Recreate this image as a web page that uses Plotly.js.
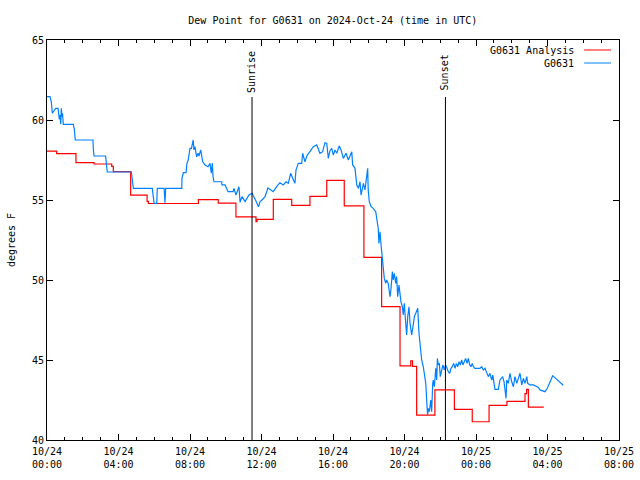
<!DOCTYPE html>
<html>
<head>
<meta charset="utf-8">
<script src="https://cdn.plot.ly/plotly-3.0.1.min.js"></script>
<style>html,body{margin:0;padding:0;background:#fff;}#chart{width:640px;height:480px;}</style>
</head>
<body>
<div id="chart"></div>
<script>
// ---- data (hours after 2024-10-24 00:00 UTC) ----
const baseDay = '2024-10-24';
const analysisHours = [0, 0.54, 1.62, 2.63, 3.62, 3.71, 4.68, 5.6, 5.67, 8.47, 9.58, 10.57, 11.69, 11.75, 12.66, 13.69, 14.71, 15.65, 16.63, 17.73, 18.72, 19.75, 20.35, 20.45, 20.68, 21.7, 22.79, 23.79, 24.73, 25.73, 26.74, 26.83, 26.93, 27.79];
const analysisValues = [58.05, 57.9, 57.33, 57.25, 57.1, 56.77, 55.3, 54.92, 54.78, 55.02, 54.81, 53.95, 53.64, 53.79, 55.04, 54.67, 55.23, 56.23, 54.63, 51.42, 48.33, 44.63, 44.94, 44.6, 41.56, 43.13, 41.92, 41.14, 42.17, 42.42, 42.9, 43.17, 42.06, 42.06];

const obsHours = [0, 0.17, 0.24, 0.30, 0.39, 0.49, 0.62, 0.69, 0.73, 0.77, 0.80, 0.84, 0.87, 0.91, 1.47, 1.53, 1.58, 2.57, 2.59, 2.63, 3.28, 3.34, 3.37, 4.72, 4.76, 4.83, 5.89, 5.99, 6.14, 6.17, 6.55, 6.60, 6.64, 7.54, 7.55, 7.63, 7.78, 7.83, 7.90, 7.96, 8.0, 8.08, 8.18, 8.22, 8.28, 8.37, 8.45, 8.50, 8.60, 8.71, 8.84, 9.01, 9.12, 9.19, 9.25, 9.29, 9.34, 9.77, 9.79, 9.96, 10.01, 10.13, 10.41, 10.46, 10.57, 10.74, 10.80, 10.91, 11.08, 11.19, 11.30, 11.47, 11.58, 11.69, 11.83, 11.92, 12.03, 12.20, 12.36, 12.51, 12.66, 12.85, 13.03, 13.22, 13.37, 13.50, 13.63, 13.75, 13.87, 13.93, 14.06, 14.25, 14.30, 14.43, 14.56, 14.71, 14.90, 15.09, 15.18, 15.27, 15.42, 15.55, 15.65, 15.74, 15.83, 15.93, 16.02, 16.11, 16.21, 16.35, 16.45, 16.58, 16.73, 16.86, 17.05, 17.10, 17.23, 17.33, 17.42, 17.51, 17.57, 17.70, 17.79, 17.89, 17.94, 17.97, 18.03, 18.13, 18.25, 18.39, 18.44, 18.53, 18.57, 18.63, 18.69, 18.72, 18.78, 18.81, 18.87, 18.95, 19.00, 19.09, 19.19, 19.24, 19.32, 19.37, 19.43, 19.51, 19.56, 19.62, 19.69, 19.80, 19.88, 19.93, 19.99, 20.07, 20.12, 20.18, 20.25, 20.31, 20.40, 20.49, 20.55, 20.63, 20.68, 20.74, 20.81, 20.87, 20.96, 21.05, 21.11, 21.19, 21.24, 21.29, 21.33, 21.39, 21.47, 21.52, 21.58, 21.61, 21.67, 21.75, 21.80, 21.84, 21.89, 21.95, 22.00, 22.08, 22.15, 22.23, 22.30, 22.38, 22.45, 22.53, 22.60, 22.67, 22.75, 22.83, 22.90, 22.98, 23.05, 23.12, 23.20, 23.27, 23.35, 23.42, 23.50, 23.57, 23.65, 23.72, 23.79, 23.85, 23.94, 24.22, 24.32, 24.41, 24.50, 24.60, 24.69, 24.78, 24.88, 24.94, 25.01, 25.06, 25.25, 25.34, 25.49, 25.57, 25.68, 25.72, 25.81, 25.90, 26.0, 26.09, 26.18, 26.28, 26.37, 26.46, 26.56, 26.65, 26.74, 26.84, 26.89, 27.02, 27.21, 27.36, 27.49, 27.58, 27.77, 27.86, 27.99, 28.29, 28.88];
const obsValues = [61.46, 61.46, 61.14, 60.42, 60.58, 60.73, 60.73, 60.04, 60.31, 59.73, 60.73, 60.21, 60.42, 59.73, 59.73, 59.42, 58.75, 58.75, 58.23, 57.75, 57.75, 57.13, 56.75, 56.75, 56.35, 55.73, 55.73, 54.79, 54.79, 55.73, 55.73, 54.83, 55.73, 55.73, 56.35, 56.71, 56.71, 57.29, 57.5, 57.92, 58.23, 58.23, 58.75, 58.13, 58.33, 57.7, 57.92, 57.75, 58.13, 57.39, 57.19, 57.08, 57.29, 56.67, 57.29, 56.46, 56.14, 56.14, 55.94, 55.94, 55.79, 55.52, 55.52, 55.73, 55.31, 55.83, 54.86, 55.21, 54.9, 55.13, 55.31, 55.42, 55.21, 54.94, 54.58, 54.9, 55.0, 55.21, 55.75, 55.63, 55.52, 55.83, 56.08, 55.94, 56.14, 56.04, 56.67, 56.35, 56.04, 56.88, 57.29, 57.29, 57.92, 57.39, 57.81, 58.02, 58.33, 58.44, 58.23, 57.92, 58.02, 58.58, 58.54, 57.6, 58.08, 58.23, 57.81, 58.13, 57.92, 58.38, 58.13, 57.6, 57.92, 57.5, 58.02, 57.19, 56.98, 55.94, 55.73, 56.14, 55.31, 56.04, 55.63, 56.67, 56.98, 55.63, 54.9, 54.58, 54.48, 54.27, 53.86, 53.23, 52.29, 53.02, 52.19, 51.77, 51.46, 50.83, 50.1, 49.79, 50.0, 49.79, 48.96, 49.38, 50.52, 50.0, 50.42, 49.79, 50.21, 48.96, 49.69, 48.65, 48.33, 47.81, 48.54, 47.29, 46.56, 47.71, 48.33, 47.29, 46.56, 47.19, 47.71, 47.92, 48.13, 48.23, 46.67, 45.75, 45.0, 44.58, 44.17, 43.54, 42.5, 41.56, 41.98, 41.77, 42.5, 41.77, 43.54, 43.75, 43.33, 44.48, 43.75, 45.1, 44.69, 44.79, 43.96, 44.38, 44.69, 44.38, 44.69, 44.48, 44.27, 44.17, 44.48, 44.58, 44.79, 44.48, 44.79, 44.58, 44.9, 44.69, 45.0, 44.69, 44.9, 45.1, 44.79, 45.1, 44.69, 44.58, 44.79, 44.58, 44.48, 44.48, 44.58, 44.38, 44.48, 44.17, 43.96, 44.17, 43.75, 44.06, 43.54, 43.17, 43.17, 43.75, 43.96, 43.64, 42.6, 43.75, 43.54, 44.17, 43.64, 43.33, 43.96, 43.54, 43.85, 44.17, 43.44, 43.85, 43.54, 43.96, 43.54, 43.44, 43.44, 43.38, 43.29, 43.13, 43.08, 43.02, 43.23, 44.02, 43.42];

const eventHours = [11.47, 22.29];
const eventLabels = ['Sunrise', 'Sunset'];
const seriesNames = ['G0631 Analysis', 'G0631'];
const seriesColors = ['#ff0000', '#0080ff'];
const xTickLabelFmt = '%m/%d<br>%H:%M';
const chartTitle = 'Dew Point for G0631 on 2024-Oct-24 (time in UTC)';
const yTitle = 'degrees F';

// ---- helpers ----
const base = Date.UTC(2024, 9, 24);
function toTime(h) {
  return new Date(base + Math.round(h * 3600000)).toISOString().replace('T', ' ').replace('Z', '');
}

const font = {family: 'DejaVu Sans Mono, monospace', size: 10, color: '#000'};

const traces = [
  {x: analysisHours.map(toTime), y: analysisValues, type: 'scatter', mode: 'lines',
   line: {color: seriesColors[0], width: 1.2, shape: 'hv'}, name: seriesNames[0], showlegend: false},
  {x: obsHours.map(toTime), y: obsValues, type: 'scatter', mode: 'lines',
   line: {color: seriesColors[1], width: 1.2}, name: seriesNames[1], showlegend: false}
];

const shapes = [];
const annotations = [];
eventHours.forEach((h, i) => {
  shapes.push({type: 'line', xref: 'x', yref: 'paper', x0: toTime(h), x1: toTime(h), y0: 0, y1: 0.8575,
    line: {color: '#000', width: 1}});
  annotations.push({xref: 'x', yref: 'paper', x: toTime(h), y: 0.92, text: eventLabels[i], showarrow: false,
    textangle: -90, font: font, xanchor: 'center', yanchor: 'middle'});
});
// legend (gnuplot style: text then line sample)
const legY = [0.975, 0.9425];
seriesNames.forEach((n, i) => {
  annotations.push({xref: 'paper', yref: 'paper', x: 0.925, y: legY[i], text: n, showarrow: false,
    font: font, xanchor: 'right', yanchor: 'middle'});
  shapes.push({type: 'line', xref: 'paper', yref: 'paper', x0: 0.939, x1: 0.986, y0: legY[i], y1: legY[i],
    line: {color: seriesColors[i], width: 1}});
});

const layout = {
  width: 640, height: 480,
  margin: {l: 47, r: 21, t: 40, b: 40},
  paper_bgcolor: '#fff', plot_bgcolor: '#fff',
  font: font,
  title: {text: chartTitle, font: font, x: 0.52, xanchor: 'center', y: 0.958, yanchor: 'middle', xref: 'container'},
  xaxis: {
    type: 'date', range: [toTime(0), toTime(32)],
    tick0: toTime(0), dtick: 4 * 3600000, tickformat: xTickLabelFmt,
    ticks: 'inside', ticklen: 6, tickcolor: '#000', tickwidth: 1,
    minor: {dtick: 3600000, ticks: 'inside', ticklen: 3, tickcolor: '#000', showgrid: false},
    showline: true, linecolor: '#000', linewidth: 1, mirror: 'ticks',
    showgrid: false, zeroline: false, tickfont: font, automargin: false,
    ticklabelstandoff: 2
  },
  yaxis: {
    range: [40, 65], tick0: 40, dtick: 5,
    ticks: 'inside', ticklen: 6, tickcolor: '#000', tickwidth: 1,
    showline: true, linecolor: '#000', linewidth: 1, mirror: 'ticks',
    showgrid: false, zeroline: false, tickfont: font, automargin: false,
    title: {text: yTitle, font: font, standoff: 14}
  },
  shapes: shapes,
  annotations: annotations
};

Plotly.newPlot('chart', traces, layout, {staticPlot: true, displayModeBar: false});
</script>
</body>
</html>
